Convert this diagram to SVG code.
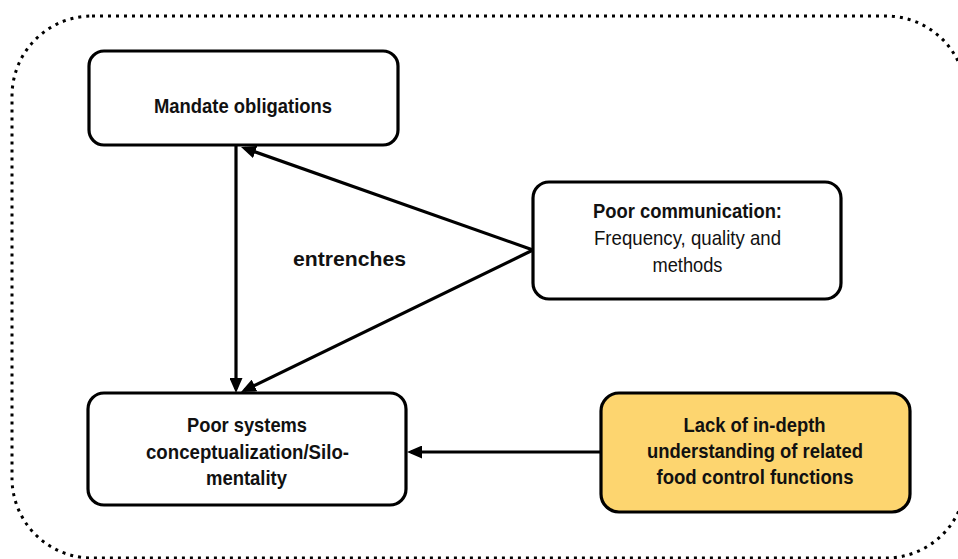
<svg xmlns="http://www.w3.org/2000/svg" width="958" height="559" viewBox="0 0 958 559">
<style>
.box{fill:#fff;stroke:#000;stroke-width:3.2}
.gold{fill:#FDD56F}
.t{font-family:"Liberation Sans",Arial,sans-serif;font-size:21px;fill:#111;text-anchor:middle}
.b{font-weight:bold}
.conn{stroke:#000;stroke-width:3.2;fill:none;marker-end:url(#arr)}
</style>
<defs>
<marker id="arr" viewBox="0 0 15 13" refX="11" refY="6.5" markerWidth="15" markerHeight="13" markerUnits="userSpaceOnUse" orient="auto">
<path d="M0,0 L15,6.5 L0,13 z" fill="#000"/>
</marker>
</defs>
<rect id="frame" x="12" y="16" width="954" height="542" rx="80" ry="80" fill="none" stroke="#000" stroke-width="3" stroke-dasharray="3 5"/>
<g id="connectors">
<line class="conn" x1="236" y1="146" x2="236" y2="389"/>
<line class="conn" x1="533" y1="250" x2="244.8" y2="148.3"/>
<line class="conn" x1="533" y1="250" x2="244.6" y2="390.3"/>
<line class="conn" x1="601" y1="452" x2="411" y2="452"/>
<text class="t b" x="349.5" y="266" textLength="113" lengthAdjust="spacingAndGlyphs">entrenches</text>
</g>
<g id="mandate">
<rect class="box" x="89" y="51" width="309" height="94" rx="15"/>
<text class="t b" x="243" y="113" textLength="178" lengthAdjust="spacingAndGlyphs">Mandate obligations</text>
</g>
<g id="communication">
<rect class="box" x="533" y="182" width="308" height="117" rx="16"/>
<text class="t b" x="687.5" y="218" textLength="189" lengthAdjust="spacingAndGlyphs">Poor communication:</text>
<text class="t" x="687.5" y="245" textLength="187" lengthAdjust="spacingAndGlyphs">Frequency, quality and</text>
<text class="t" x="687.5" y="272" textLength="70" lengthAdjust="spacingAndGlyphs">methods</text>
</g>
<g id="systems">
<rect class="box" x="88" y="393" width="318" height="112" rx="16"/>
<text class="t b" x="247" y="432" textLength="120" lengthAdjust="spacingAndGlyphs">Poor systems</text>
<text class="t b" x="247.5" y="458.5" textLength="203" lengthAdjust="spacingAndGlyphs">conceptualization/Silo-</text>
<text class="t b" x="246.5" y="485" textLength="81" lengthAdjust="spacingAndGlyphs">mentality</text>
</g>
<g id="lack">
<rect class="box gold" x="601" y="393" width="309" height="119" rx="18"/>
<text class="t b" x="754.5" y="432" textLength="142" lengthAdjust="spacingAndGlyphs">Lack of in-depth</text>
<text class="t b" x="755" y="458" textLength="216" lengthAdjust="spacingAndGlyphs">understanding of related</text>
<text class="t b" x="755" y="484" textLength="197" lengthAdjust="spacingAndGlyphs">food control functions</text>
</g>
</svg>
